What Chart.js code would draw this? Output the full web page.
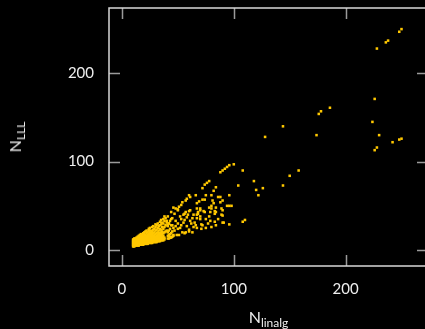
<!DOCTYPE html>
<html>
<head>
<meta charset="utf-8">
<script src="https://cdn.jsdelivr.net/npm/chart.js@4.4.1/dist/chart.umd.min.js"></script>
<style>
  html, body { margin:0; padding:0; background:#000; overflow:hidden; width:425px; height:329px; }
  #wrap { position:absolute; left:0; top:0; width:440px; height:329px; }
  .ttl { position:absolute; color:#eee; font-family: Lato, "Open Sans", sans-serif; font-size:16px; line-height:1; white-space:nowrap; }
  .ttl sub { font-size:12px; vertical-align:baseline; position:relative; top:4px; }
  #xt { left:109px; width:319px; text-align:center; top:309px; }
  #yt { left:15px; top:137px; transform: translate(-50%,-50%) rotate(-90deg); }
</style>
</head>
<body>
<div id="wrap"><canvas id="c"></canvas></div>
<div class="ttl" id="xt">N<sub>linalg</sub></div>
<div class="ttl" id="yt">N<sub>LLL</sub></div>
<script>
// Tick labels
const xTicks = [0, 100, 200];
const yTicks = [0, 100, 200];

// Dense band: for each N_linalg column, the N_LLL values seen
const bandX = [10,11,12,13,14,15,16,17,18,19,20,21,22,23,24,25,26,27,28,29,30,31,32,33,34,35,36,37,38,39,40,41,42,43,44,45,46];
const bandY = [
  [4,5,6,7,8,9,10,11,12],
  [4,5,6,7,8,9,10,11,12,13],
  [5,6,7,8,9,10,11,12,13],
  [5,6,7,8,9,10,11,12,14],
  [5,6,7,8,9,10,11,12,13,15],
  [5,6,7,8,9,10,11,12,13,14,16],
  [6,7,8,9,10,11,12,13,15,17],
  [6,7,8,9,10,11,12,13,14,16,18],
  [6,7,8,9,10,11,12,14,15,17],
  [6,7,8,9,10,11,12,13,15,18,19],
  [7,8,9,10,11,12,13,14,16,18,20],
  [7,8,9,10,11,12,13,15,17,21],
  [7,8,9,10,11,12,14,16,19,22],
  [7,8,9,10,11,13,15,17,20],
  [8,9,10,11,12,14,16,18,22,24],
  [8,9,10,11,12,13,15,17,20,25],
  [8,9,10,11,13,14,16,19,22],
  [8,9,10,12,13,15,18,21,26],
  [9,10,11,12,14,16,19,23,27],
  [9,10,11,13,15,17,20,24],
  [9,10,12,13,15,18,22,26,29],
  [9,11,12,14,16,19,23,28],
  [10,11,13,15,17,20,25,30],
  [10,12,13,16,18,22,27],
  [10,12,14,16,19,24,28,32],
  [11,12,14,17,20,23,29,34],
  [11,13,15,18,21,26,31],
  [11,13,16,19,24,30,35],
  [12,14,20,26,33],
  [21,28,36],
  [22,31],
  [13,16,20,27,38],
  [13,17,22,30],
  [14,18,24,33],
  [14,19,28],
  [15,21,36],
  [16,25]
];

// Scattered points
const sparseX = [250,248,238,236,228,226,186,178,176,144,128,174,224,230,242,248,250,228,226,158,150,144,126,
  100,96,94,92,90,88,108,118,120,122,104,78,76,74,72,84,82,66,75,80,86,88,96,61,58,60,
  90,88,81,82,94,96,98,90,84,84,78,80,80,74,79,72,74,70,68,70,70,90,84,90,96,108,110,77,71,71,75,67,63,60,60,56,49,52,
  69,67,57,54,53,51,50,48,46,38,61,55,57,59,67,70,73,78,63,67,68,83,91,57,51,54,46,43,89,83,83,89,
  60,56,52,56,58,64,67,44,47,50,50,53,48,45,62,58,64,47,50,42,44,40,41,48,55,53,61,65,72,80,86,75,79,66];
const sparseY = [250,247,237,235,228,171,161,157,154,140,128,130,145,130,122,125,126,116,113,90,84,73,70,
  97,96,94,92,90,88,90,78,68,62,73,78,76,74,70,71,67,62,62,62,60,60,62,60,58,62,
  56,54,56,53,50,50,50,45,48,43,48,47,50,43,43,57,57,47,43,38,35,39,28,31,29,32,34,30,29,24,25,25,20,23,21,19,17,25,
  55,53,56,54,51,49,46,47,48,38,45,40,43,40,47,45,44,38,36,40,41,32,31,20,17,20,17,15,40,44,41,47,
  44,41,38,34,37,40,36,43,41,45,30,28,33,28,30,27,26,22,24,30,35,33,28,27,31,35,33,31,28,26,35,35,33,28];

const points = [];
bandX.forEach((x, i) => bandY[i].forEach(y => points.push({x, y})));
sparseX.forEach((x, i) => points.push({x, y: sparseY[i]}));

const frameColor = '#d8d8d8';
const tickColor = '#9a9a9a';

const framePlugin = {
  id: 'frame',
  afterDatasetsDraw(chart) {
    const {ctx, chartArea: a, scales: {x, y}} = chart;
    ctx.save();
    ctx.strokeStyle = tickColor;
    ctx.lineWidth = 1.5;
    const tl = 11;
    xTicks.forEach(v => {
      const px = Math.round(x.getPixelForValue(v)) + 0.5;
      ctx.beginPath();
      ctx.moveTo(px, a.bottom); ctx.lineTo(px, a.bottom - tl);
      ctx.moveTo(px, a.top); ctx.lineTo(px, a.top + tl);
      ctx.stroke();
    });
    yTicks.forEach(v => {
      const py = Math.round(y.getPixelForValue(v)) + 0.5;
      ctx.beginPath();
      ctx.moveTo(a.left, py); ctx.lineTo(a.left + tl, py);
      ctx.moveTo(a.right, py); ctx.lineTo(a.right - tl, py);
      ctx.stroke();
    });
    ctx.strokeStyle = frameColor;
    ctx.lineWidth = 1.5;
    ctx.strokeRect(a.left, a.top, a.right - a.left, a.bottom - a.top);
    ctx.restore();
  }
};

const fontFam = 'Lato, "Open Sans", sans-serif';

new Chart(document.getElementById('c'), {
  type: 'scatter',
  data: {
    datasets: [{
      data: points,
      backgroundColor: 'rgb(255,200,0)',
      borderWidth: 0,
      pointStyle: 'rect',
      pointRadius: 1.8,
      pointHoverRadius: 1.8
    }]
  },
  options: {
    responsive: true,
    maintainAspectRatio: false,
    animation: false,
    events: [],
    layout: { padding: { top: 8, right: 12, left: 0, bottom: 0 } },
    plugins: { legend: { display: false }, tooltip: { enabled: false } },
    scales: {
      x: {
        type: 'linear',
        min: -11.6, max: 273.7,
        afterBuildTicks: s => { s.ticks = xTicks.map(v => ({value: v})); },
        afterFit: s => { s.height = 63; s.paddingLeft = 0; s.paddingRight = 0; },
        grid: { display: false },
        border: { display: false },
        ticks: { color: '#eee', font: { family: fontFam, size: 15 }, padding: 6, maxRotation: 0 }
      },
      y: {
        type: 'linear',
        min: -18.1, max: 273.9,
        afterBuildTicks: s => { s.ticks = yTicks.map(v => ({value: v})); },
        afterFit: s => { s.width = 109; s.paddingTop = 0; s.paddingBottom = 0; },
        grid: { display: false },
        border: { display: false },
        ticks: { color: '#eee', font: { family: fontFam, size: 15 }, padding: 7 }
      }
    }
  },
  plugins: [framePlugin]
});
</script>
</body>
</html>
